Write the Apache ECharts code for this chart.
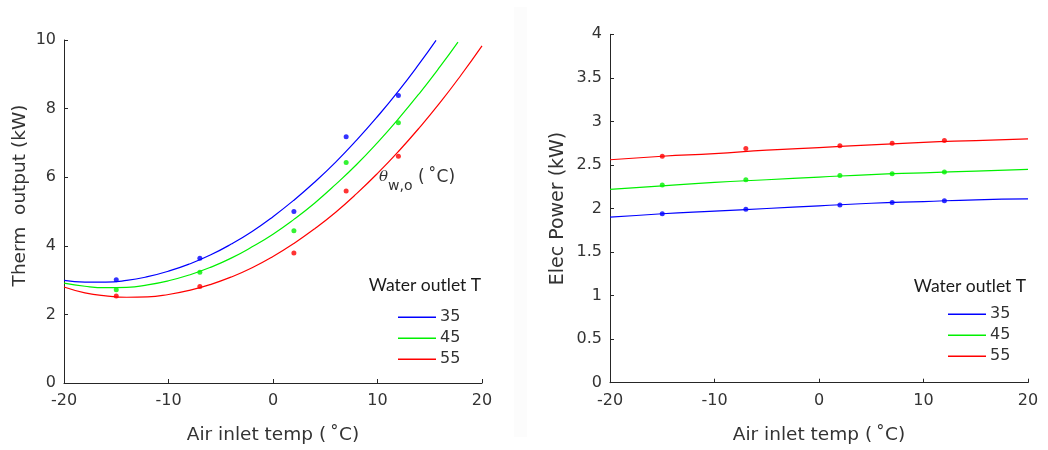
<!DOCTYPE html>
<html><head><meta charset="utf-8">
<script src="https://cdn.jsdelivr.net/npm/echarts@6/dist/echarts.min.js"></script>
<style>html,body{margin:0;padding:0;background:#fff;}#c{width:1048px;height:450px;}</style>
</head><body><div id="c"></div>
<script>
// ---- Data ----
var seriesNames = ['35', '45', '55'];
var seriesColors = ['#0000ff', '#00f000', '#ff0000'];
var xTicks = [-20, -10, 0, 10, 20];

// Left: thermal output, measured points (x = air inlet temp)
var ptX = [-15, -7, 2, 7, 12];
var therm35 = [3.01, 3.64, 5.00, 7.18, 8.38];
var therm45 = [2.72, 3.23, 4.44, 6.43, 7.59];
var therm55 = [2.54, 2.81, 3.79, 5.60, 6.61];

// Left: fitted curves
var fitX35 = [-20, -18, -16, -14, -12, -10, -8, -6, -4, -2, 0, 2, 4, 6, 8, 10, 12, 14, 15.6];
var fit35 = [2.99, 2.94, 2.94, 2.99, 3.10, 3.26, 3.47, 3.73, 4.05, 4.42, 4.85, 5.33, 5.86, 6.44, 7.08, 7.77, 8.51, 9.31, 9.99];
var fitX45 = [-20, -18, -16, -14, -12, -10, -8, -6, -4, -2, 0, 2, 4, 6, 8, 10, 12, 14, 16, 17.7];
var fit45 = [2.91, 2.82, 2.78, 2.79, 2.86, 2.98, 3.15, 3.37, 3.64, 3.97, 4.34, 4.77, 5.25, 5.79, 6.37, 7.01, 7.70, 8.44, 9.23, 9.94];
var fitX55 = [-20, -18, -16, -14, -12, -10, -8, -6, -4, -2, 0, 2, 4, 6, 8, 10, 12, 14, 16, 18, 20];
var fit55 = [2.80, 2.63, 2.54, 2.50, 2.51, 2.58, 2.70, 2.87, 3.09, 3.36, 3.69, 4.07, 4.50, 4.98, 5.52, 6.11, 6.75, 7.44, 8.18, 8.98, 9.83];

// Right: electric power, measured points
var elec35 = [1.94, 1.99, 2.04, 2.07, 2.09];
var elec45 = [2.27, 2.33, 2.38, 2.40, 2.42];
var elec55 = [2.60, 2.69, 2.72, 2.75, 2.78];

// Right: fitted lines
var lineX = [-20, -15, -10, -5, 0, 5, 10, 15, 20];
var line35 = [1.90, 1.94, 1.97, 2.00, 2.03, 2.06, 2.08, 2.10, 2.11];
var line45 = [2.22, 2.26, 2.30, 2.33, 2.36, 2.39, 2.41, 2.43, 2.45];
var line55 = [2.56, 2.60, 2.63, 2.67, 2.70, 2.73, 2.76, 2.78, 2.80];

// ---- Chart ----
function zip(xs, ys) { return xs.map(function (x, i) { return [x, ys[i]]; }); }
var FONT = 'DejaVu Sans';
var TXT = '#333333';
var AX = '#262626';

function xAxisDef(gi) {
  return {
    type: 'value', gridIndex: gi, min: -20, max: 20, interval: 10,
    axisLine: { onZero: false, lineStyle: { color: AX, width: 1 } },
    axisTick: { inside: true, length: 4, lineStyle: { color: AX } },
    axisLabel: { color: TXT, fontFamily: FONT, fontSize: 16, margin: 10 },
    splitLine: { show: false },
    name: 'Air inlet temp (\u2009\u02DAC)', nameLocation: 'middle', nameGap: 43,
    nameTextStyle: { color: TXT, fontFamily: FONT, fontSize: 18.5 }
  };
}
function yAxisDef(gi, max, interval, fmt) {
  return {
    type: 'value', gridIndex: gi, min: 0, max: max, interval: interval,
    axisLine: { show: true, onZero: false, lineStyle: { color: AX, width: 1 } },
    axisTick: { show: true, inside: true, length: 4, lineStyle: { color: AX } },
    axisLabel: { color: TXT, fontFamily: FONT, fontSize: 16, margin: 8, formatter: fmt },
    splitLine: { show: false }
  };
}

var series = [];
var fitsL = [[fitX35, fit35], [fitX45, fit45], [fitX55, fit55]];
var ptsL = [therm35, therm45, therm55];
var linesR = [line35, line45, line55];
var ptsR = [elec35, elec45, elec55];
for (var i = 0; i < 3; i++) {
  series.push({ name: seriesNames[i], type: 'line', xAxisIndex: 0, yAxisIndex: 0,
    data: zip(fitsL[i][0], fitsL[i][1]), smooth: true, showSymbol: false, symbol: 'none',
    lineStyle: { color: seriesColors[i], width: 1.2 }, itemStyle: { color: seriesColors[i] }, z: 2 });
  series.push({ name: 'pL' + i, type: 'scatter', xAxisIndex: 0, yAxisIndex: 0,
    data: zip(ptX, ptsL[i]), symbol: 'circle', symbolSize: 5,
    itemStyle: { color: seriesColors[i] }, z: 3 });
  series.push({ name: seriesNames[i], type: 'line', xAxisIndex: 1, yAxisIndex: 1,
    data: zip(lineX, linesR[i]), smooth: true, showSymbol: false, symbol: 'none',
    lineStyle: { color: seriesColors[i], width: 1.2 }, itemStyle: { color: seriesColors[i] }, z: 2 });
  series.push({ name: 'pR' + i, type: 'scatter', xAxisIndex: 1, yAxisIndex: 1,
    data: zip(ptX, ptsR[i]), symbol: 'circle', symbolSize: 5,
    itemStyle: { color: seriesColors[i] }, z: 3 });
}

function legendDef(left, top) {
  return {
    data: seriesNames, left: left, top: top, orient: 'vertical',
    icon: 'rect', itemWidth: 38, itemHeight: 1.5, itemGap: 0.5,
    textStyle: { color: TXT, fontFamily: FONT, fontSize: 16, lineHeight: 20.5, padding: [0, 0, 0, -1] },
    selectedMode: false, padding: 0
  };
}

var chart = echarts.init(document.getElementById('c'), null, { renderer: 'canvas' });
chart.setOption({
  backgroundColor: '#ffffff',
  animation: false,
  grid: [
    { left: 64, top: 40, width: 418, height: 343.3 },
    { left: 610, top: 34.3, width: 418, height: 348.4 }
  ],
  xAxis: [xAxisDef(0), xAxisDef(1)],
  yAxis: [
    yAxisDef(0, 10, 2),
    yAxisDef(1, 4, 0.5, function (v) { return String(v); })
  ],
  legend: [legendDef(398, 307), legendDef(948, 304)],
  graphic: [
    { type: 'rect', left: 514, top: 7, shape: { width: 13, height: 430 }, style: { fill: '#fcfcfc' }, z: -10 },
    { type: 'text', x: 20, y: 195.5, rotation: Math.PI / 2,
      style: { text: 'Therm  output (kW)', fill: TXT, font: '18.5px "DejaVu Sans"', textAlign: 'center', textVerticalAlign: 'middle' } },
    { type: 'text', x: 558, y: 208.5, rotation: Math.PI / 2,
      style: { text: 'Elec Power (kW)', fill: TXT, font: '19px "DejaVu Sans"', textAlign: 'center', textVerticalAlign: 'middle' } },
    { type: 'text', x: 379, y: 177,
      style: { text: '\u03B8', fill: TXT, font: 'italic 15px "DejaVu Serif"', textAlign: 'left', textVerticalAlign: 'middle' } },
    { type: 'text', x: 388, y: 186,
      style: { text: 'w,o', fill: TXT, font: '14px "DejaVu Sans"', textAlign: 'left', textVerticalAlign: 'middle' } },
    { type: 'text', x: 418, y: 178,
      style: { text: '(\u2009\u02DAC)', fill: TXT, font: '17px "DejaVu Sans"', textAlign: 'left', textVerticalAlign: 'middle' } },
    { type: 'text', x: 425, y: 285,
      style: { text: 'Water outlet T', fill: '#1a1a1a', font: '17.5px "Lato"', textAlign: 'center', textVerticalAlign: 'middle' } },
    { type: 'text', x: 970, y: 286,
      style: { text: 'Water outlet T', fill: '#1a1a1a', font: '17.5px "Lato"', textAlign: 'center', textVerticalAlign: 'middle' } }
  ],
  series: series
});
</script></body></html>
